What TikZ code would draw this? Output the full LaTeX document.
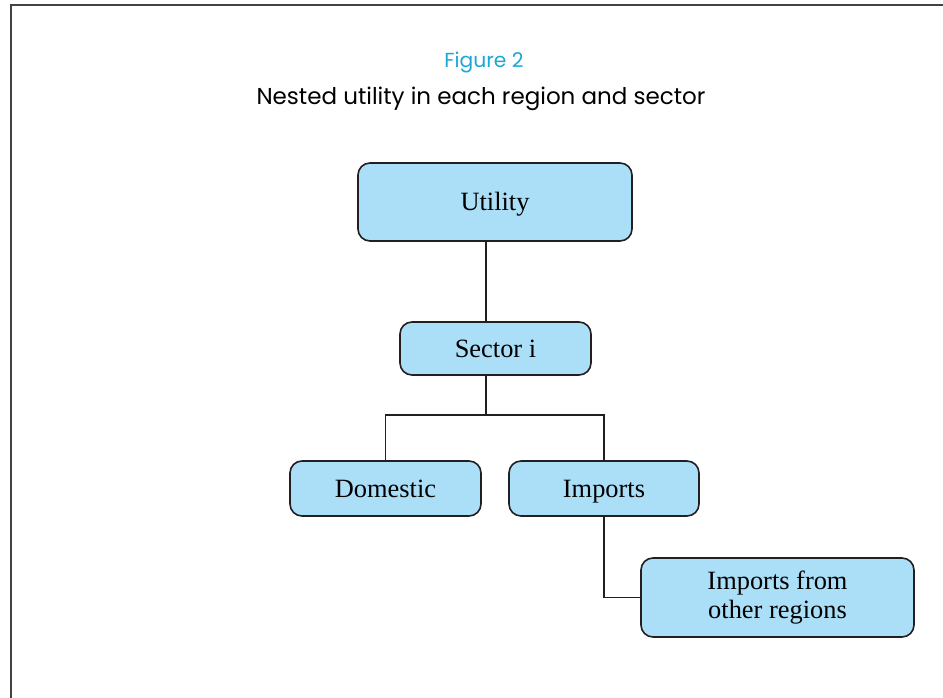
\documentclass[tikz,border=0pt]{standalone}
\usepackage{fontspec}
\setmainfont{Liberation Serif}
\newfontfamily\titlefont{Poppins}
\usepackage{xcolor}
\definecolor{boxblue}{RGB}{171,223,248}
\definecolor{titlecyan}{RGB}{28,168,208}
\definecolor{linegray}{RGB}{35,31,32}
\newcommand\boxstrut{\rule[-6pt]{0pt}{29pt}}
\tikzset{
  box/.style={draw=linegray, fill=boxblue, line width=1.6pt, rounded corners=12pt,
    inner sep=0pt, align=center, font=\fontsize{26.4}{29}\selectfont,
    execute at begin node=\boxstrut, execute at end node=\boxstrut},
  conn/.style={draw=linegray, line width=1.6pt}}

\begin{document}
\begin{tikzpicture}[x=1pt,y=-1pt]
\useasboundingbox (0,0) rectangle (943,698);
\draw[linegray!85, line width=2.4pt] (943,5) -- (11,5) -- (11,698);
\node[titlecyan, font=\titlefont\fontsize{20.3}{24}\selectfont] (fig) at (484,63) {Figure 2};
\node[font=\titlefont\fontsize{23}{27}\selectfont] (cap) at (481,99) {Nested utility in each region and sector};

\node[box, minimum width=274, minimum height=78] (util) at (495,202) {Utility};
\node[box, minimum width=191, minimum height=53] (sec) at (495.5,348.5) {Sector i};
\node[box, minimum width=191, minimum height=55] (dom) at (385.5,488.5) {Domestic};
\node[box, minimum width=190, minimum height=55] (imp) at (604,488.5) {Imports};
\node[box, minimum width=273, minimum height=79] (oth) at (777.5,597.5) {Imports from\\other regions};

\coordinate (trunk) at (486,415);
\draw[conn] (util.south -| trunk) -- (sec.north -| trunk);
\draw[conn] (sec.south -| trunk) -- (trunk);
\draw[conn] (dom.north) |- (trunk) -| (imp.north);
\draw[conn] (imp.south) |- (oth.west);
\end{tikzpicture}
\end{document}
